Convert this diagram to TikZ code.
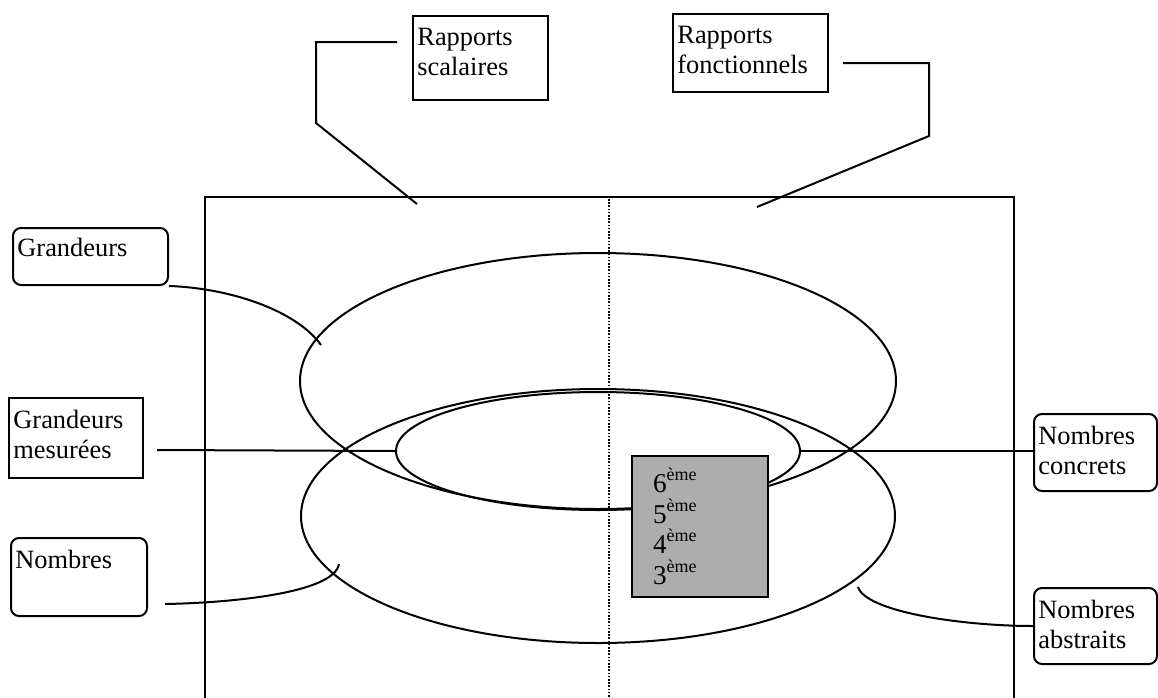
\documentclass[tikz,border=0pt]{standalone}
\usepackage{fontspec}
\setmainfont{Liberation Serif}
\usetikzlibrary{shapes.geometric}
\newcommand{\eme}{\raisebox{6pt}{\fontsize{9}{9}\selectfont ème}}

\begin{document}
\begin{tikzpicture}[x=0.5pt,y=-0.5pt,line width=1pt,
                    box/.style={draw,anchor=north west,inner sep=0pt},
                    rbox/.style={box,rounded corners=4pt},
                    ring/.style={draw,ellipse,inner sep=0pt},
                    txt/.style={anchor=north west,align=left,
                                inner xsep=2.2pt,inner ysep=6pt,
                                font=\fontsize{13.2}{15}\selectfont}]
  \useasboundingbox (0,0) rectangle (1158,697);
  \clip (0,0) rectangle (1158,697);
  % frame, open at the foot of the page, split by the dotted line
  \draw (205,720) |- (1014,197) -- (1014,720);
  \draw[line width=0.8pt,dash pattern=on 0.8pt off 0.8pt] (609,199) -- (609,697);
  % the three rings
  \node[ring,minimum width=298pt,minimum height=128pt] (ringG) at (598,381) {};
  \node[ring,minimum width=297pt,minimum height=127pt] (ringN) at (598,516) {};
  \node[ring,minimum width=202pt,minimum height=59pt] (ringM) at (598,451) {};
  % school years
  \node[box,fill=black!32,minimum width=68pt,minimum height=70.5pt,
        label={[txt,font=\fontsize{13.6}{15.3}\selectfont,
                inner xsep=10.5pt,inner ysep=6pt]north west:{6\eme\\5\eme\\4\eme\\3\eme}}]
        (years) at (631,455) {};
  % boxes
  \node[box,minimum width=67.5pt,minimum height=42pt,
        label={[txt]north west:{Rapports\\scalaires}}] (scal) at (412,15) {};
  \node[box,minimum width=77.5pt,minimum height=39pt,
        label={[txt]north west:{Rapports\\fonctionnels}}] (fonc) at (672,13) {};
  \node[rbox,minimum width=77.5pt,minimum height=28.5pt,
        label={[txt,inner ysep=5pt]north west:Grandeurs}] (grand) at (12,227) {};
  \node[box,minimum width=67pt,minimum height=40pt,
        label={[txt]north west:{Grandeurs\\mesurées}}] (gmes) at (8,397) {};
  \node[rbox,minimum width=68pt,minimum height=39pt,
        label={[txt]north west:Nombres}] (nomb) at (10,537) {};
  \node[rbox,minimum width=61.5pt,minimum height=38.5pt,
        label={[txt]north west:{Nombres\\concrets}}] (ncon) at (1033,413) {};
  \node[rbox,minimum width=61.5pt,minimum height=38pt,
        label={[txt]north west:{Nombres\\abstraits}}] (nabs) at (1033,587) {};
  % loose ends of the leaders
  \coordinate (scal-tail) at (397,42);
  \coordinate (scal-tip) at (417,204);
  \coordinate (fonc-tail) at (843,63);
  \coordinate (fonc-tip) at (757,207);
  \coordinate (grand-tip) at (321,345);
  \coordinate (gmes-tail) at (157,450);
  \coordinate (nomb-tail) at (165,604);
  \coordinate (nomb-tip) at (339,564);
  \coordinate (nabs-tip) at (858,587);
  % leaders
  \draw (scal-tail) -| ++(-81,81) -- (scal-tip);
  \draw (fonc-tail) -| ++(86,73) -- (fonc-tip);
  \draw (grand.south east) .. controls +(60,2) and +(-25,-35) .. (grand-tip);
  \draw (gmes-tail) -- (ringM.west);
  \draw (nomb-tail) .. controls +(60,-1) and +(-5,30) .. (nomb-tip);
  \draw (ringM.east) -- (ringM.east -| ncon.west);
  \draw (nabs.west) .. controls +(-70,0) and +(8,25) .. (nabs-tip);
\end{tikzpicture}
\end{document}
